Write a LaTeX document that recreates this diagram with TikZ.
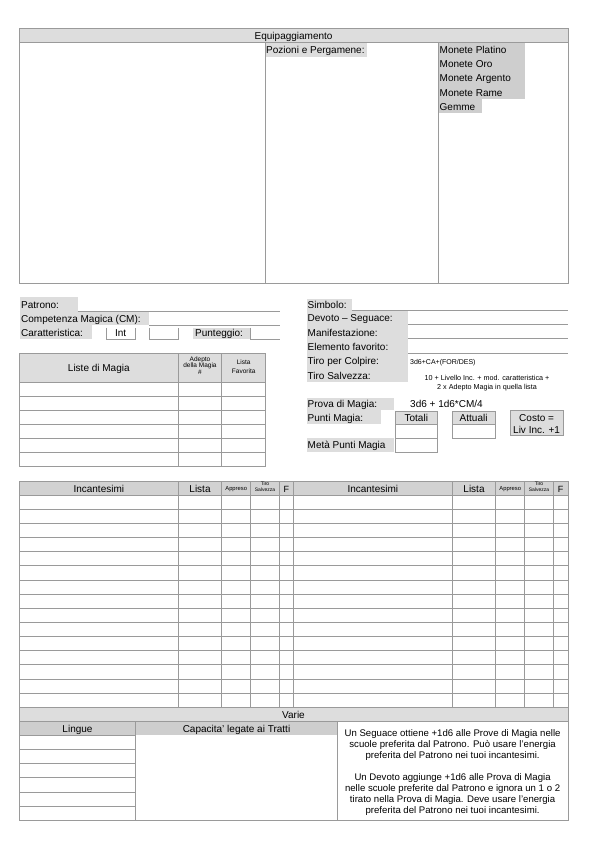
\documentclass[tikz,border=0pt]{standalone}
\usepackage{fontspec}
\setmainfont{Liberation Sans}
\definecolor{lncol}{HTML}{9A9A9A}
\definecolor{fa}{HTML}{DDDDDD}
\definecolor{fb}{HTML}{CECECE}
\definecolor{fc}{HTML}{D2D2D2}
\newcommand\fsz[2]{\fontsize{#1}{#2}\selectfont}
\tikzset{
  frame/.style={draw=lncol, line width=0.7pt},
  lbl/.style={anchor=base west, inner sep=0pt, font=\fsz{10}{11}},
  ctr/.style={anchor=base, inner sep=0pt, font=\fsz{10}{11}, align=center},
}
\begin{document}
\begin{tikzpicture}[x=1pt,y=-1pt]
\useasboundingbox (0,0) rectangle (595,842);

% ================= Equipaggiamento =================
\fill[fa] (19.3,28.3) rectangle (568,42.5);
\fill[fa] (265,42.5) rectangle (366.8,56.7);
\fill[fb] (438.3,42.5) rectangle (525,99);
\fill[fb] (438.3,99) rectangle (481.7,113.3);
\draw[frame] (19.3,28.3) rectangle (568,283.3);
\draw[frame] (19.3,42.5) -- (568,42.5);
\draw[frame] (265,42.5) -- (265,283.3);
\draw[frame] (438.3,42.5) -- (438.3,283.3);
\node[ctr] (eqh) at (293.6,39.7) {Equipaggiamento};
\node[lbl] (poz) at (266,54) {Pozioni e Pergamene:};
\node[lbl] (mpl) at (439.5,54) {Monete Platino};
\node[lbl] (mor) at (439.5,68) {Monete Oro};
\node[lbl] (mar) at (439.5,81.8) {Monete Argento};
\node[lbl] (mra) at (439.5,96.2) {Monete Rame};
\node[lbl] (gem) at (439.5,110.5) {Gemme};

% ================= Patrono (left) =================
\fill[fa] (20,297.3) rectangle (77.7,311);
\fill[fa] (20,311) rectangle (149.3,325);
\fill[fa] (20,325) rectangle (92.3,339.3);
\fill[fa] (192.7,327.5) rectangle (250,339.3);
\draw[frame] (77.7,311) -- (280,311);
\draw[frame] (149.3,325) -- (280,325);
\draw[frame] (106,327.7) -- (106,339.3) -- (135.3,339.3) -- (135.3,327.7);
\draw[frame] (149.3,327.7) -- (149.3,339.3) -- (178.3,339.3) -- (178.3,327.7);
\draw[frame] (250,327.7) -- (250,339.3) -- (280,339.3);
\node[lbl] (pat) at (21,308.3) {Patrono:};
\node[lbl] (com) at (21,322.5) {Competenza Magica (CM):};
\node[lbl] (car) at (21,336.5) {Caratteristica:};
\node[ctr] (int) at (120.7,336.5) {Int};
\node[lbl] (pun) at (195,336.5) {Punteggio:};

% ================= Liste di Magia =================
\fill[fa] (19.3,353.3) rectangle (265.7,382.7);
\draw[frame] (19.3,353.3) rectangle (265.7,466.7);
\foreach \i in {0,...,5} \draw[frame] (19.3,{382.7+\i*14}) -- (265.7,{382.7+\i*14});
\draw[frame] (178.3,353.3) -- (178.3,466.7);
\draw[frame] (221.7,353.3) -- (221.7,466.7);
\node[ctr] (lmh) at (98.8,371.7) {Liste di Magia};
\node[ctr, font=\fsz{6.5}{6.5}] (adh) at (200,374) {Adepto\\della Magia\\\#};
\node[ctr, font=\fsz{6.5}{8.3}] (lfh) at (243.7,373) {Lista\\Favorita};

% ================= Simbolo (right) =================
\fill[fa] (306.7,299.3) rectangle (351.7,310.7);
\fill[fa] (306.7,310.7) rectangle (408.3,381.7);
\fill[fa] (306.7,398.3) rectangle (394,410);
\fill[fa] (306.7,410) rectangle (380.7,424);
\fill[fa] (306.7,438.3) rectangle (394,452.3);
\fill[fa] (395,411.7) rectangle (437.7,424.7);
\fill[fa] (452.3,411.7) rectangle (495,424.7);
\fill[fa] (510,410.7) rectangle (563.3,435);
\draw[frame] (351.7,310.7) -- (568,310.7);
\draw[frame] (408.3,324.7) -- (568,324.7);
\draw[frame] (408.3,338.7) -- (568,338.7);
\draw[frame] (408.3,353.3) -- (568,353.3);
\draw[frame] (395,411.7) rectangle (437.7,452.3);
\draw[frame] (395,424.7) -- (437.7,424.7);
\draw[frame] (395,438.3) -- (437.7,438.3);
\draw[frame] (452.3,411.7) rectangle (495,438.3);
\draw[frame] (452.3,424.7) -- (495,424.7);
\draw[frame] (510,410.7) rectangle (563.3,435);
\node[lbl] (sim) at (307.5,308.3) {Simbolo:};
\node[lbl] (dev) at (307.5,321.8) {Devoto -- Seguace:};
\node[lbl] (man) at (307.5,336) {Manifestazione:};
\node[lbl] (ele) at (307.5,350.6) {Elemento favorito:};
\node[lbl] (tpc) at (307.5,364.8) {Tiro per Colpire:};
\node[lbl] (tsv) at (307.5,379) {Tiro Salvezza:};
\node[lbl, font=\fsz{7}{8}] (tpcv) at (410,364.2) {3d6+CA+(FOR/DES)};
\node[ctr, font=\fsz{7.2}{8.4}] (tsvv) at (487,389.1) {10 + Livello Inc. + mod. caratteristica +\\2 x Adepto Magia in quella lista};
\node[lbl] (prv) at (307.5,407.3) {Prova di Magia:};
\node[lbl] (prvv) at (410,407.5) {3d6 + 1d6*CM/4};
\node[lbl] (pmg) at (307.5,421) {Punti Magia:};
\node[ctr] (tot) at (416.3,421.5) {Totali};
\node[ctr] (att) at (473.6,421.5) {Attuali};
\node[ctr] (cst) at (536.6,421.7) {Costo =};
\node[ctr] (liv) at (536.6,433) {Liv Inc. +1};
\node[lbl] (met) at (307.5,448.8) {Metà Punti Magia};

% ================= Incantesimi =================
\fill[fc] (19.3,481.5) rectangle (568,495);
\draw[frame] (19.3,481.5) rectangle (568,707.3);
\draw[frame] (19.3,495) -- (568,495);
\foreach \i in {1,...,14} \draw[frame] (19.3,{495+\i*14.153}) -- (568,{495+\i*14.153});
\foreach \x in {178.3,221.7,250.7,279.3,293.3,452.3,495.7,524.7,553.3}
  \draw[frame] (\x,481.5) -- (\x,707.3);
\node[ctr] (inc1) at (98.8,492.2) {Incantesimi};
\node[ctr] (lis1) at (200,492.2) {Lista};
\node[ctr, font=\fsz{5.8}{6}] (app1) at (236.2,490.2) {Appreso};
\node[ctr, font=\fsz{5}{5.7}] (tir1) at (265,491.5) {Tiro\\Salvezza};
\node[ctr, font=\fsz{9}{10}] (ff1) at (286.3,492.2) {F};
\node[ctr] (inc2) at (372.8,492.2) {Incantesimi};
\node[ctr] (lis2) at (474,492.2) {Lista};
\node[ctr, font=\fsz{5.8}{6}] (app2) at (510.2,490.2) {Appreso};
\node[ctr, font=\fsz{5}{5.7}] (tir2) at (539,491.5) {Tiro\\Salvezza};
\node[ctr, font=\fsz{9}{10}] (ff2) at (560.6,492.2) {F};

% ================= Varie =================
\fill[fa] (19.3,707.3) rectangle (568,721.3);
\fill[fb] (19.3,721.3) rectangle (337.3,735.3);
\draw[frame] (19.3,707.3) rectangle (568,820.3);
\draw[frame] (19.3,721.3) -- (568,721.3);
\draw[frame] (19.3,735.3) -- (135.7,735.3);
\foreach \i in {1,...,5} \draw[frame] (19.3,{735.3+\i*14.17}) -- (135.7,{735.3+\i*14.17});
\draw[frame] (135.7,721.3) -- (135.7,820.3);
\draw[frame] (337.3,721.3) -- (337.3,820.3);
\node[ctr] (var) at (293.5,718.3) {Varie};
\node[ctr] (lin) at (77.5,732.3) {Lingue};
\node[ctr] (cap) at (236.5,732.3) {Capacita' legate ai Tratti};
\node[ctr, font=\fsz{9.6}{11}] (nota) at (452.6,813) {Un Seguace ottiene +1d6 alle Prove di Magia nelle\\scuole preferita dal Patrono. Può usare l'energia\\preferita del Patrono nei tuoi incantesimi.\\[11pt]Un Devoto aggiunge +1d6 alle Prova di Magia\\nelle scuole preferite dal Patrono e ignora un 1 o 2\\tirato nella Prova di Magia. Deve usare l'energia\\preferita del Patrono nei tuoi incantesimi.};
\end{tikzpicture}
\end{document}
